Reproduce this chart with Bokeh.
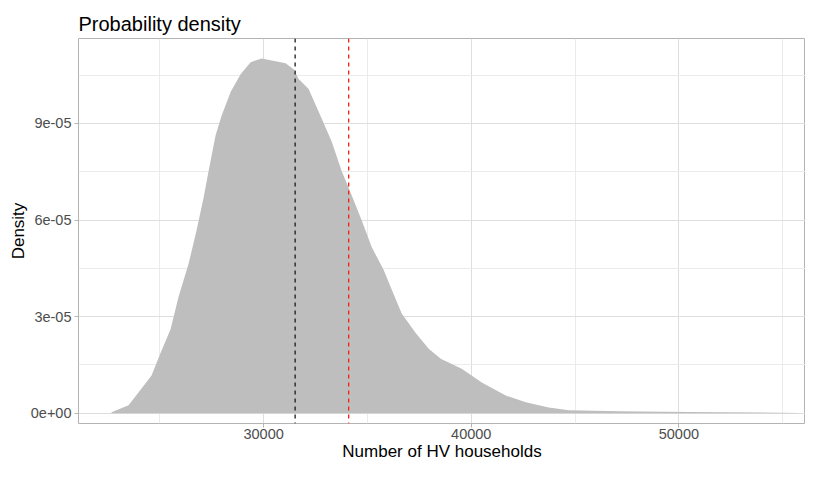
from bokeh.plotting import figure
from bokeh.models import FixedTicker, Span, Range1d
from bokeh.embed import file_html
from bokeh.resources import INLINE

# Density curve
households = [22675, 23494, 24121, 24603, 25036, 25518, 25904, 26386, 26771, 27109,
              27350, 27687, 27976, 28410, 28892, 29374, 29904, 30578, 31060, 31446,
              31687, 32169, 32795, 33277, 33759, 34096, 34723, 35205, 35783, 36169,
              36650, 37325, 37952, 38530, 39542, 40506, 41662, 42626, 43734, 44698,
              47107, 50481, 55782]
density = [3e-7, 2.46e-6, 7.68e-6, 1.167e-5, 1.873e-5, 2.61e-5, 3.62e-5, 4.64e-5, 5.68e-5, 6.69e-5,
           7.52e-5, 8.63e-5, 9.24e-5, 9.98e-5, 1.053e-4, 1.090e-4, 1.102e-4, 1.093e-4, 1.087e-4, 1.068e-4,
           1.038e-4, 1.007e-4, 9.15e-5, 8.44e-5, 7.52e-5, 7.00e-5, 5.99e-5, 5.16e-5, 4.45e-5, 3.84e-5,
           3.10e-5, 2.49e-5, 2.00e-5, 1.69e-5, 1.38e-5, 9.5e-6, 5.5e-6, 3.4e-6, 1.8e-6, 9e-7,
           6e-7, 4e-7, 1e-7]
baseline = [0.0] * len(households)

black_line_x = 31518
red_line_x = 34096

x_ticks = [30000, 40000, 50000]
x_tick_labels = ["30000", "40000", "50000"]
x_minor_ticks = [25000, 35000, 45000, 55000]
y_ticks = [0, 3e-05, 6e-05, 9e-05]
y_tick_labels = ["0e+00", "3e-05", "6e-05", "9e-05"]
y_minor_ticks = [1.5e-05, 4.5e-05, 7.5e-05, 1.05e-04]

FONT = "Liberation Sans"

p = figure(width=805, height=463, min_border_left=78, min_border_right=0,
           min_border_top=38, min_border_bottom=36,
           x_range=Range1d(21084, 56100), y_range=Range1d(-3.2e-06, 1.1638e-04),
           output_backend="svg", toolbar_location=None,
           title="Probability density")

p.varea(x=households, y1=baseline, y2=density, fill_color="#BEBEBE")

p.add_layout(Span(location=black_line_x, dimension="height", line_color="#1A1A1A",
                  line_dash="4 4", line_width=1.3))
p.add_layout(Span(location=red_line_x, dimension="height", line_color="#FF1A1A",
                  line_dash="4 4", line_width=1.3))

p.title.text_font = FONT
p.title.text_font_size = "20px"
p.title.text_font_style = "normal"
p.title.text_color = "#000000"
p.title.align = "left"
p.title.offset = 0
p.title.standoff = 8

p.outline_line_color = "#B3B3B3"
p.outline_line_width = 1
p.background_fill_color = "white"
p.border_fill_color = "white"

p.xaxis.ticker = FixedTicker(ticks=x_ticks, minor_ticks=x_minor_ticks)
p.yaxis.ticker = FixedTicker(ticks=y_ticks, minor_ticks=y_minor_ticks)
p.xaxis.major_label_overrides = dict(zip(x_ticks, x_tick_labels))
p.yaxis.major_label_overrides = dict(zip(y_ticks, y_tick_labels))

for ax in (p.xaxis, p.yaxis):
    ax.axis_line_color = None
    ax.major_tick_line_color = "#B3B3B3"
    ax.major_tick_out = 4
    ax.major_tick_in = 0
    ax.minor_tick_line_color = None
    ax.major_label_text_font = FONT
    ax.major_label_text_font_size = "14.5px"
    ax.major_label_text_color = "#4D4D4D"
    ax.axis_label_text_font = FONT
    ax.axis_label_text_font_size = "17px"
    ax.axis_label_text_font_style = "normal"
    ax.axis_label_text_color = "#000000"
    ax.major_label_standoff = 3

p.xaxis.major_label_standoff = 1
p.xaxis.axis_label = "Number of HV households"
p.yaxis.axis_label = "Density"
p.xaxis.axis_label_standoff = 0
p.yaxis.axis_label_standoff = 0

p.xgrid.grid_line_color = "#DEDEDE"
p.ygrid.grid_line_color = "#DEDEDE"
p.xgrid.minor_grid_line_color = "#EBEBEB"
p.ygrid.minor_grid_line_color = "#EBEBEB"
p.xgrid.grid_line_width = 1
p.ygrid.grid_line_width = 1

open("out.html", "w").write(file_html(p, INLINE))
